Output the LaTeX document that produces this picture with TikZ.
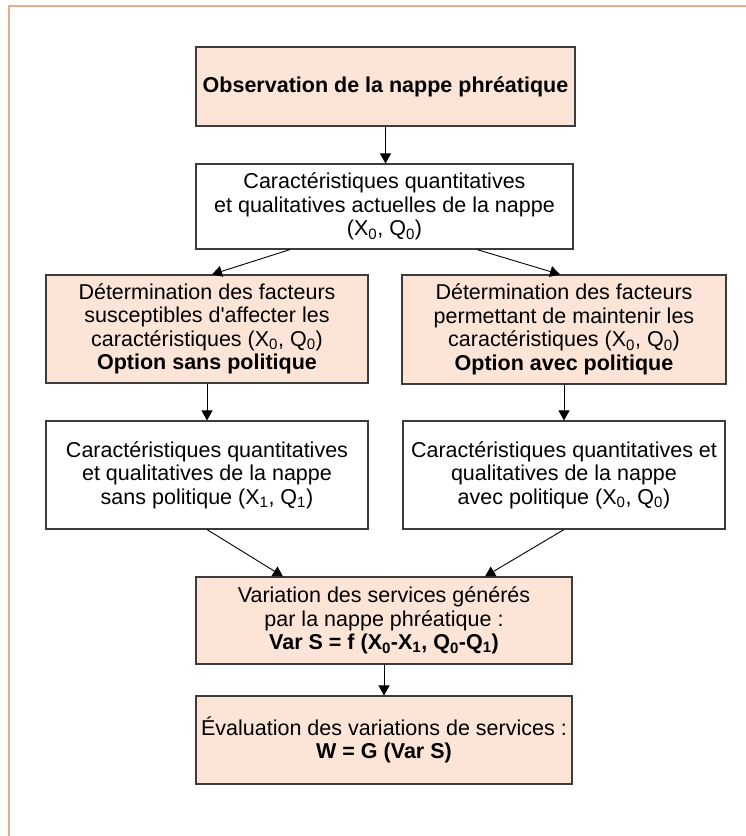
\documentclass[tikz,border=0pt]{standalone}
\usepackage{fontspec}
\setmainfont{Liberation Sans}
\usetikzlibrary{arrows.meta}
\definecolor{salmon}{RGB}{252,228,214}
\definecolor{framecol}{RGB}{240,168,140}
\definecolor{edgecol}{RGB}{60,60,60}
\begin{document}
\begin{tikzpicture}[x=1pt,y=-1pt,
  box/.style={draw=edgecol, line width=1.1pt, rectangle, inner sep=0pt, align=center,
    font=\fontsize{21.5}{23.5}\selectfont},
  pink/.style={box, fill=salmon},
  white/.style={box, fill=white},
  arr/.style={draw=black, line width=0.9pt, -{Triangle[length=10pt,width=11pt]}}]
\useasboundingbox (0,0) rectangle (746,836);
\draw[framecol, line width=1.6pt] (9,836) -- (9,6) -- (746,6);

\node[pink, minimum width=379, minimum height=79] (b1) at (385.5,86.5)
  {\textbf{Observation de la nappe phréatique}};
\node[white, minimum width=377, minimum height=85] (b2) at (384.5,206.5)
  {Caractéristiques quantitatives\\et qualitatives actuelles de la nappe\\(X\textsubscript{0}, Q\textsubscript{0})};
\node[pink, minimum width=322, minimum height=108] (b3) at (207,329)
  {Détermination des facteurs\\susceptibles d\textquotesingle affecter les\\caractéristiques (X\textsubscript{0}, Q\textsubscript{0})\\\textbf{Option sans politique}};
\node[pink, minimum width=324, minimum height=109] (b4) at (564,329.5)
  {Détermination des facteurs\\permettant de maintenir les\\caractéristiques (X\textsubscript{0}, Q\textsubscript{0})\\\textbf{Option avec politique}};
\node[white, minimum width=322, minimum height=108] (b5) at (207,475)
  {Caractéristiques quantitatives\\et qualitatives de la nappe\\sans politique (X\textsubscript{1}, Q\textsubscript{1})};
\node[white, minimum width=322, minimum height=108] (b6) at (564,475)
  {Caractéristiques quantitatives et\\qualitatives de la nappe\\avec politique (X\textsubscript{0}, Q\textsubscript{0})};
\node[pink, minimum width=376, minimum height=87] (b7) at (384,620.5)
  {Variation des services générés\\par la nappe phréatique :\\\textbf{Var S = f (X\textsubscript{0}-X\textsubscript{1}, Q\textsubscript{0}-Q\textsubscript{1})}};
\node[pink, minimum width=376, minimum height=88] (b8) at (384,740)
  {Évaluation des variations de services :\\\textbf{W = G (Var S)}};

\draw[arr] (b1.south) -- (b1.south |- b2.north);
\draw[arr] ([xshift=-94.5]b2.south) -- ([xshift=5]b3.north);
\draw[arr] ([xshift=92.5]b2.south) -- ([xshift=-4]b4.north);
\draw[arr] (b3.south) -- (b5.north);
\draw[arr] (b4.south) -- (b6.north);
\draw[arr] (b5.south) -- ([xshift=-101]b7.north);
\draw[arr] (b6.south) -- ([xshift=101]b7.north);
\draw[arr] (b7.south) -- (b8.north);
\end{tikzpicture}
\end{document}
